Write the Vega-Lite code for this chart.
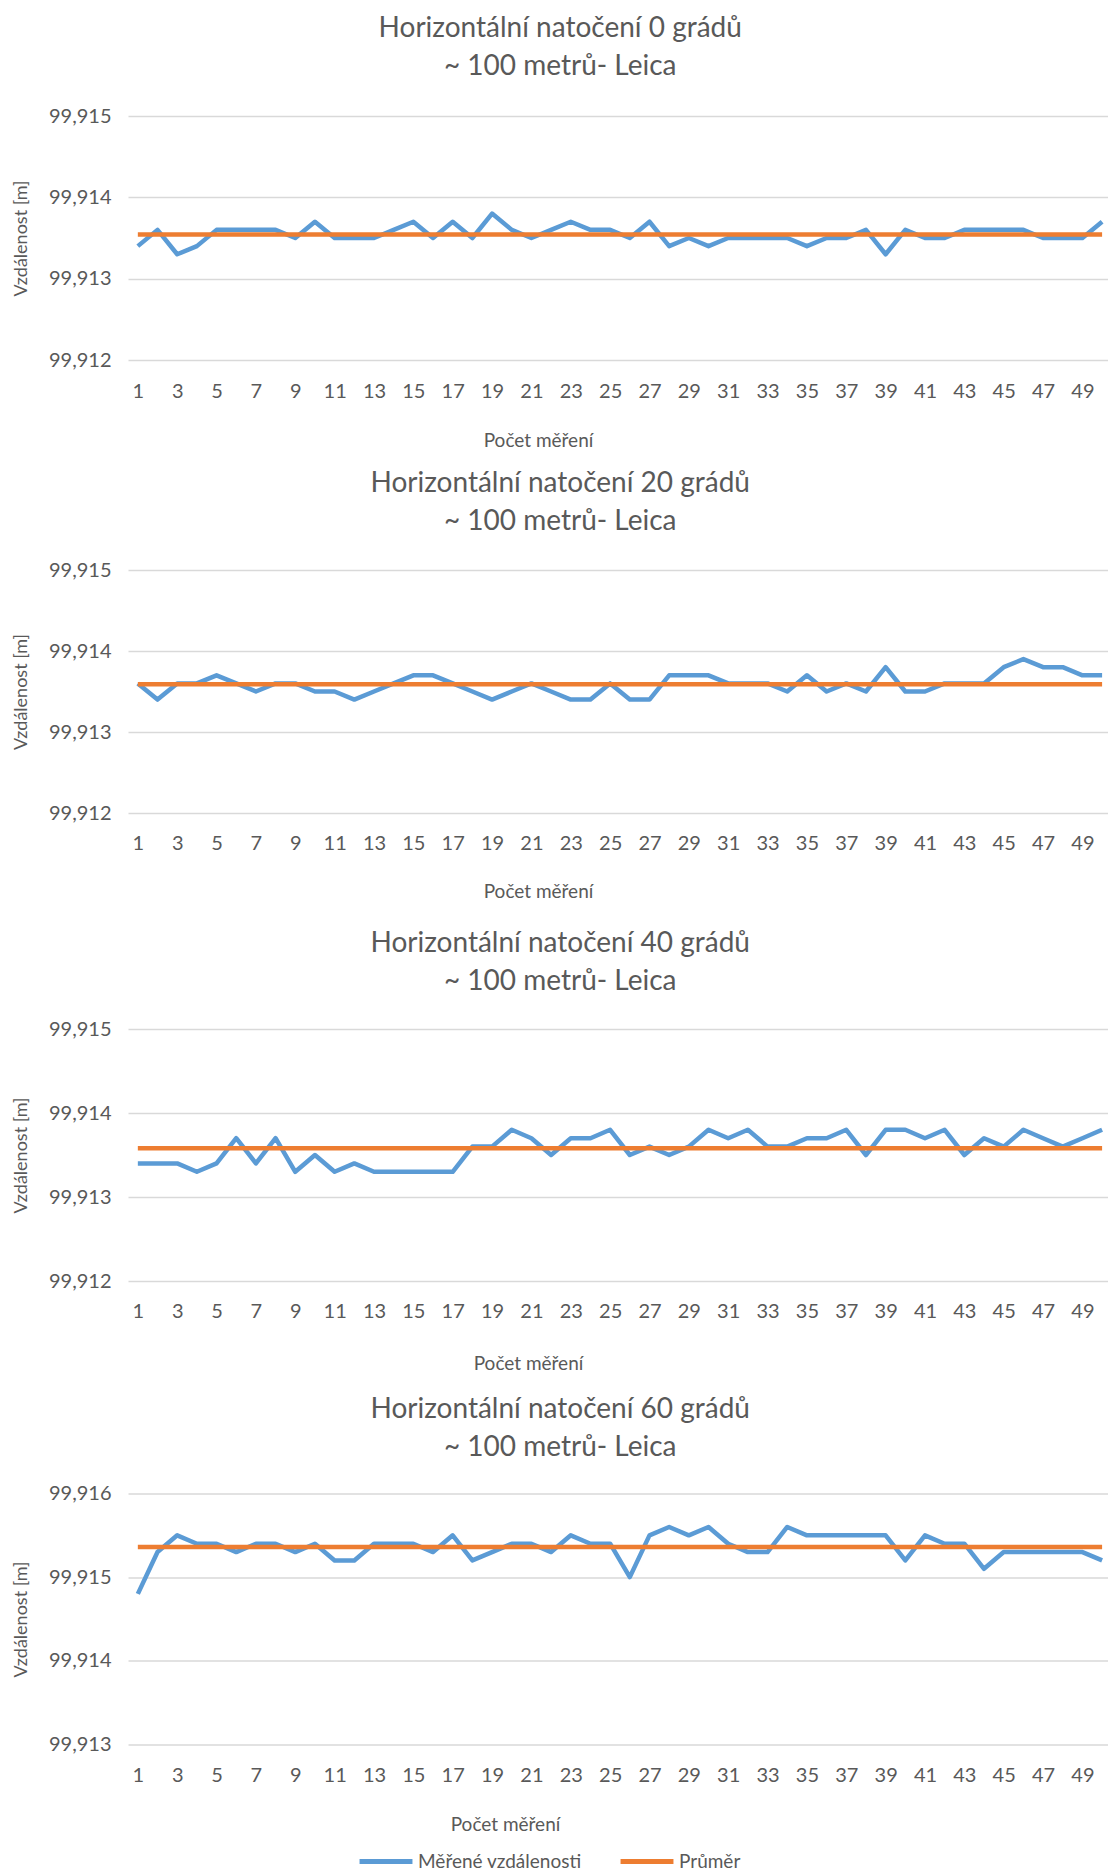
{
  "$schema": "https://vega.github.io/schema/vega-lite/v6.json",
  "background": "white",
  "padding": {"left": 12, "top": 15, "right": 0, "bottom": 0},
  "spacing": 28,
  "config": {
    "font": "Lato",
    "view": {"stroke": null},
    "axis": {"labelFont": "Lato", "titleFont": "Lato", "labelColor": "#595959", "titleColor": "#595959", "labelFontSize": 20, "titleFontSize": 19, "titleFontWeight": "normal", "ticks": false, "domain": false, "gridColor": "#d9d9d9", "gridWidth": 1.3},
    "title": {"font": "Lato", "fontSize": 28, "fontWeight": "normal", "color": "#595959", "lineHeight": 38, "anchor": "middle", "frame": "bounds", "offset": 26},
    "legend": {"labelFont": "Lato"}
  },
  "datasets": {
    "d": [
      {"p":1,"n":1,"m":99.9134,"a":99.913544},{"p":1,"n":2,"m":99.9136,"a":99.913544},{"p":1,"n":3,"m":99.9133,"a":99.913544},{"p":1,"n":4,"m":99.9134,"a":99.913544},{"p":1,"n":5,"m":99.9136,"a":99.913544},
      {"p":1,"n":6,"m":99.9136,"a":99.913544},{"p":1,"n":7,"m":99.9136,"a":99.913544},{"p":1,"n":8,"m":99.9136,"a":99.913544},{"p":1,"n":9,"m":99.9135,"a":99.913544},{"p":1,"n":10,"m":99.9137,"a":99.913544},
      {"p":1,"n":11,"m":99.9135,"a":99.913544},{"p":1,"n":12,"m":99.9135,"a":99.913544},{"p":1,"n":13,"m":99.9135,"a":99.913544},{"p":1,"n":14,"m":99.9136,"a":99.913544},{"p":1,"n":15,"m":99.9137,"a":99.913544},
      {"p":1,"n":16,"m":99.9135,"a":99.913544},{"p":1,"n":17,"m":99.9137,"a":99.913544},{"p":1,"n":18,"m":99.9135,"a":99.913544},{"p":1,"n":19,"m":99.9138,"a":99.913544},{"p":1,"n":20,"m":99.9136,"a":99.913544},
      {"p":1,"n":21,"m":99.9135,"a":99.913544},{"p":1,"n":22,"m":99.9136,"a":99.913544},{"p":1,"n":23,"m":99.9137,"a":99.913544},{"p":1,"n":24,"m":99.9136,"a":99.913544},{"p":1,"n":25,"m":99.9136,"a":99.913544},
      {"p":1,"n":26,"m":99.9135,"a":99.913544},{"p":1,"n":27,"m":99.9137,"a":99.913544},{"p":1,"n":28,"m":99.9134,"a":99.913544},{"p":1,"n":29,"m":99.9135,"a":99.913544},{"p":1,"n":30,"m":99.9134,"a":99.913544},
      {"p":1,"n":31,"m":99.9135,"a":99.913544},{"p":1,"n":32,"m":99.9135,"a":99.913544},{"p":1,"n":33,"m":99.9135,"a":99.913544},{"p":1,"n":34,"m":99.9135,"a":99.913544},{"p":1,"n":35,"m":99.9134,"a":99.913544},
      {"p":1,"n":36,"m":99.9135,"a":99.913544},{"p":1,"n":37,"m":99.9135,"a":99.913544},{"p":1,"n":38,"m":99.9136,"a":99.913544},{"p":1,"n":39,"m":99.9133,"a":99.913544},{"p":1,"n":40,"m":99.9136,"a":99.913544},
      {"p":1,"n":41,"m":99.9135,"a":99.913544},{"p":1,"n":42,"m":99.9135,"a":99.913544},{"p":1,"n":43,"m":99.9136,"a":99.913544},{"p":1,"n":44,"m":99.9136,"a":99.913544},{"p":1,"n":45,"m":99.9136,"a":99.913544},
      {"p":1,"n":46,"m":99.9136,"a":99.913544},{"p":1,"n":47,"m":99.9135,"a":99.913544},{"p":1,"n":48,"m":99.9135,"a":99.913544},{"p":1,"n":49,"m":99.9135,"a":99.913544},{"p":1,"n":50,"m":99.9137,"a":99.913544},

      {"p":2,"n":1,"m":99.9136,"a":99.913588},{"p":2,"n":2,"m":99.9134,"a":99.913588},{"p":2,"n":3,"m":99.9136,"a":99.913588},{"p":2,"n":4,"m":99.9136,"a":99.913588},{"p":2,"n":5,"m":99.9137,"a":99.913588},
      {"p":2,"n":6,"m":99.9136,"a":99.913588},{"p":2,"n":7,"m":99.9135,"a":99.913588},{"p":2,"n":8,"m":99.9136,"a":99.913588},{"p":2,"n":9,"m":99.9136,"a":99.913588},{"p":2,"n":10,"m":99.9135,"a":99.913588},
      {"p":2,"n":11,"m":99.9135,"a":99.913588},{"p":2,"n":12,"m":99.9134,"a":99.913588},{"p":2,"n":13,"m":99.9135,"a":99.913588},{"p":2,"n":14,"m":99.9136,"a":99.913588},{"p":2,"n":15,"m":99.9137,"a":99.913588},
      {"p":2,"n":16,"m":99.9137,"a":99.913588},{"p":2,"n":17,"m":99.9136,"a":99.913588},{"p":2,"n":18,"m":99.9135,"a":99.913588},{"p":2,"n":19,"m":99.9134,"a":99.913588},{"p":2,"n":20,"m":99.9135,"a":99.913588},
      {"p":2,"n":21,"m":99.9136,"a":99.913588},{"p":2,"n":22,"m":99.9135,"a":99.913588},{"p":2,"n":23,"m":99.9134,"a":99.913588},{"p":2,"n":24,"m":99.9134,"a":99.913588},{"p":2,"n":25,"m":99.9136,"a":99.913588},
      {"p":2,"n":26,"m":99.9134,"a":99.913588},{"p":2,"n":27,"m":99.9134,"a":99.913588},{"p":2,"n":28,"m":99.9137,"a":99.913588},{"p":2,"n":29,"m":99.9137,"a":99.913588},{"p":2,"n":30,"m":99.9137,"a":99.913588},
      {"p":2,"n":31,"m":99.9136,"a":99.913588},{"p":2,"n":32,"m":99.9136,"a":99.913588},{"p":2,"n":33,"m":99.9136,"a":99.913588},{"p":2,"n":34,"m":99.9135,"a":99.913588},{"p":2,"n":35,"m":99.9137,"a":99.913588},
      {"p":2,"n":36,"m":99.9135,"a":99.913588},{"p":2,"n":37,"m":99.9136,"a":99.913588},{"p":2,"n":38,"m":99.9135,"a":99.913588},{"p":2,"n":39,"m":99.9138,"a":99.913588},{"p":2,"n":40,"m":99.9135,"a":99.913588},
      {"p":2,"n":41,"m":99.9135,"a":99.913588},{"p":2,"n":42,"m":99.9136,"a":99.913588},{"p":2,"n":43,"m":99.9136,"a":99.913588},{"p":2,"n":44,"m":99.9136,"a":99.913588},{"p":2,"n":45,"m":99.9138,"a":99.913588},
      {"p":2,"n":46,"m":99.9139,"a":99.913588},{"p":2,"n":47,"m":99.9138,"a":99.913588},{"p":2,"n":48,"m":99.9138,"a":99.913588},{"p":2,"n":49,"m":99.9137,"a":99.913588},{"p":2,"n":50,"m":99.9137,"a":99.913588},

      {"p":3,"n":1,"m":99.9134,"a":99.91358},{"p":3,"n":2,"m":99.9134,"a":99.91358},{"p":3,"n":3,"m":99.9134,"a":99.91358},{"p":3,"n":4,"m":99.9133,"a":99.91358},{"p":3,"n":5,"m":99.9134,"a":99.91358},
      {"p":3,"n":6,"m":99.9137,"a":99.91358},{"p":3,"n":7,"m":99.9134,"a":99.91358},{"p":3,"n":8,"m":99.9137,"a":99.91358},{"p":3,"n":9,"m":99.9133,"a":99.91358},{"p":3,"n":10,"m":99.9135,"a":99.91358},
      {"p":3,"n":11,"m":99.9133,"a":99.91358},{"p":3,"n":12,"m":99.9134,"a":99.91358},{"p":3,"n":13,"m":99.9133,"a":99.91358},{"p":3,"n":14,"m":99.9133,"a":99.91358},{"p":3,"n":15,"m":99.9133,"a":99.91358},
      {"p":3,"n":16,"m":99.9133,"a":99.91358},{"p":3,"n":17,"m":99.9133,"a":99.91358},{"p":3,"n":18,"m":99.9136,"a":99.91358},{"p":3,"n":19,"m":99.9136,"a":99.91358},{"p":3,"n":20,"m":99.9138,"a":99.91358},
      {"p":3,"n":21,"m":99.9137,"a":99.91358},{"p":3,"n":22,"m":99.9135,"a":99.91358},{"p":3,"n":23,"m":99.9137,"a":99.91358},{"p":3,"n":24,"m":99.9137,"a":99.91358},{"p":3,"n":25,"m":99.9138,"a":99.91358},
      {"p":3,"n":26,"m":99.9135,"a":99.91358},{"p":3,"n":27,"m":99.9136,"a":99.91358},{"p":3,"n":28,"m":99.9135,"a":99.91358},{"p":3,"n":29,"m":99.9136,"a":99.91358},{"p":3,"n":30,"m":99.9138,"a":99.91358},
      {"p":3,"n":31,"m":99.9137,"a":99.91358},{"p":3,"n":32,"m":99.9138,"a":99.91358},{"p":3,"n":33,"m":99.9136,"a":99.91358},{"p":3,"n":34,"m":99.9136,"a":99.91358},{"p":3,"n":35,"m":99.9137,"a":99.91358},
      {"p":3,"n":36,"m":99.9137,"a":99.91358},{"p":3,"n":37,"m":99.9138,"a":99.91358},{"p":3,"n":38,"m":99.9135,"a":99.91358},{"p":3,"n":39,"m":99.9138,"a":99.91358},{"p":3,"n":40,"m":99.9138,"a":99.91358},
      {"p":3,"n":41,"m":99.9137,"a":99.91358},{"p":3,"n":42,"m":99.9138,"a":99.91358},{"p":3,"n":43,"m":99.9135,"a":99.91358},{"p":3,"n":44,"m":99.9137,"a":99.91358},{"p":3,"n":45,"m":99.9136,"a":99.91358},
      {"p":3,"n":46,"m":99.9138,"a":99.91358},{"p":3,"n":47,"m":99.9137,"a":99.91358},{"p":3,"n":48,"m":99.9136,"a":99.91358},{"p":3,"n":49,"m":99.9137,"a":99.91358},{"p":3,"n":50,"m":99.9138,"a":99.91358},

      {"p":4,"n":1,"m":99.9148,"a":99.915362},{"p":4,"n":2,"m":99.9153,"a":99.915362},{"p":4,"n":3,"m":99.9155,"a":99.915362},{"p":4,"n":4,"m":99.9154,"a":99.915362},{"p":4,"n":5,"m":99.9154,"a":99.915362},
      {"p":4,"n":6,"m":99.9153,"a":99.915362},{"p":4,"n":7,"m":99.9154,"a":99.915362},{"p":4,"n":8,"m":99.9154,"a":99.915362},{"p":4,"n":9,"m":99.9153,"a":99.915362},{"p":4,"n":10,"m":99.9154,"a":99.915362},
      {"p":4,"n":11,"m":99.9152,"a":99.915362},{"p":4,"n":12,"m":99.9152,"a":99.915362},{"p":4,"n":13,"m":99.9154,"a":99.915362},{"p":4,"n":14,"m":99.9154,"a":99.915362},{"p":4,"n":15,"m":99.9154,"a":99.915362},
      {"p":4,"n":16,"m":99.9153,"a":99.915362},{"p":4,"n":17,"m":99.9155,"a":99.915362},{"p":4,"n":18,"m":99.9152,"a":99.915362},{"p":4,"n":19,"m":99.9153,"a":99.915362},{"p":4,"n":20,"m":99.9154,"a":99.915362},
      {"p":4,"n":21,"m":99.9154,"a":99.915362},{"p":4,"n":22,"m":99.9153,"a":99.915362},{"p":4,"n":23,"m":99.9155,"a":99.915362},{"p":4,"n":24,"m":99.9154,"a":99.915362},{"p":4,"n":25,"m":99.9154,"a":99.915362},
      {"p":4,"n":26,"m":99.9150,"a":99.915362},{"p":4,"n":27,"m":99.9155,"a":99.915362},{"p":4,"n":28,"m":99.9156,"a":99.915362},{"p":4,"n":29,"m":99.9155,"a":99.915362},{"p":4,"n":30,"m":99.9156,"a":99.915362},
      {"p":4,"n":31,"m":99.9154,"a":99.915362},{"p":4,"n":32,"m":99.9153,"a":99.915362},{"p":4,"n":33,"m":99.9153,"a":99.915362},{"p":4,"n":34,"m":99.9156,"a":99.915362},{"p":4,"n":35,"m":99.9155,"a":99.915362},
      {"p":4,"n":36,"m":99.9155,"a":99.915362},{"p":4,"n":37,"m":99.9155,"a":99.915362},{"p":4,"n":38,"m":99.9155,"a":99.915362},{"p":4,"n":39,"m":99.9155,"a":99.915362},{"p":4,"n":40,"m":99.9152,"a":99.915362},
      {"p":4,"n":41,"m":99.9155,"a":99.915362},{"p":4,"n":42,"m":99.9154,"a":99.915362},{"p":4,"n":43,"m":99.9154,"a":99.915362},{"p":4,"n":44,"m":99.9151,"a":99.915362},{"p":4,"n":45,"m":99.9153,"a":99.915362},
      {"p":4,"n":46,"m":99.9153,"a":99.915362},{"p":4,"n":47,"m":99.9153,"a":99.915362},{"p":4,"n":48,"m":99.9153,"a":99.915362},{"p":4,"n":49,"m":99.9153,"a":99.915362},{"p":4,"n":50,"m":99.9152,"a":99.915362}
    ]
  },
  "resolve": {"scale": {"x": "independent", "y": "independent", "color": "independent"}, "legend": {"color": "independent"}},
  "vconcat": [
    {
      "spacing": 19,
      "resolve": {"scale": {"x": "independent", "y": "independent", "color": "independent"}, "legend": {"color": "independent"}},
      "vconcat": [
        {
          "width": 980, "height": 244,
          "title": {"text": ["Horizontální natočení 0 grádů", "~ 100 metrů- Leica"], "offset": 25},
          "data": {"name": "d"},
          "transform": [{"filter": "datum.p == 1"}, {"fold": ["m", "a"], "as": ["s", "v"]}],
          "mark": {"type": "line", "strokeWidth": 4.5, "strokeJoin": "round"},
          "encoding": {
            "x": {"field": "n", "type": "quantitative", "scale": {"domain": [0.5, 50.3], "nice": false, "zero": false},
                  "axis": {"values": [1,3,5,7,9,11,13,15,17,19,21,23,25,27,29,31,33,35,37,39,41,43,45,47,49], "grid": false, "title": "Počet měření", "labelPadding": 21, "titlePadding": 30, "labelFlush": false, "labelOverlap": false, "titleX": 410}},
            "y": {"field": "v", "type": "quantitative", "scale": {"domain": [99.912, 99.915], "zero": false, "nice": false},
                  "axis": {"values": [99.912, 99.913, 99.914, 99.915], "labelExpr": "replace(format(datum.value, '.3f'), '.', ',')", "title": "Vzdálenost [m]", "titleFontSize": 18, "labelPadding": 17, "titlePadding": 18}},
            "color": {"field": "s", "type": "nominal", "scale": {"domain": ["m", "a"], "range": ["#5b9bd5", "#ed7d31"]}, "legend": null}
          }
        },
        {
          "width": 980, "height": 243,
          "title": {"text": ["Horizontální natočení 20 grádů", "~ 100 metrů- Leica"], "offset": 24.5},
          "data": {"name": "d"},
          "transform": [{"filter": "datum.p == 2"}, {"fold": ["m", "a"], "as": ["s", "v"]}],
          "mark": {"type": "line", "strokeWidth": 4.5, "strokeJoin": "round"},
          "encoding": {
            "x": {"field": "n", "type": "quantitative", "scale": {"domain": [0.5, 50.3], "nice": false, "zero": false},
                  "axis": {"values": [1,3,5,7,9,11,13,15,17,19,21,23,25,27,29,31,33,35,37,39,41,43,45,47,49], "grid": false, "title": "Počet měření", "labelPadding": 20, "titlePadding": 29, "labelFlush": false, "labelOverlap": false, "titleX": 410}},
            "y": {"field": "v", "type": "quantitative", "scale": {"domain": [99.912, 99.915], "zero": false, "nice": false},
                  "axis": {"values": [99.912, 99.913, 99.914, 99.915], "labelExpr": "replace(format(datum.value, '.3f'), '.', ',')", "title": "Vzdálenost [m]", "titleFontSize": 18, "labelPadding": 17, "titlePadding": 18}},
            "color": {"field": "s", "type": "nominal", "scale": {"domain": ["m", "a"], "range": ["#5b9bd5", "#ed7d31"]}, "legend": null}
          }
        }
      ]
    },
    {
      "spacing": 22.5,
      "resolve": {"scale": {"x": "independent", "y": "independent", "color": "independent"}, "legend": {"color": "independent"}},
      "vconcat": [
        {
          "width": 980, "height": 252,
          "title": {"text": ["Horizontální natočení 40 grádů", "~ 100 metrů- Leica"], "offset": 23.2},
          "data": {"name": "d"},
          "transform": [{"filter": "datum.p == 3"}, {"fold": ["m", "a"], "as": ["s", "v"]}],
          "mark": {"type": "line", "strokeWidth": 4.5, "strokeJoin": "round"},
          "encoding": {
            "x": {"field": "n", "type": "quantitative", "scale": {"domain": [0.5, 50.3], "nice": false, "zero": false},
                  "axis": {"values": [1,3,5,7,9,11,13,15,17,19,21,23,25,27,29,31,33,35,37,39,41,43,45,47,49], "grid": false, "title": "Počet měření", "labelPadding": 20, "titlePadding": 33, "labelFlush": false, "labelOverlap": false, "titleX": 400}},
            "y": {"field": "v", "type": "quantitative", "scale": {"domain": [99.912, 99.915], "zero": false, "nice": false},
                  "axis": {"values": [99.912, 99.913, 99.914, 99.915], "labelExpr": "replace(format(datum.value, '.3f'), '.', ',')", "title": "Vzdálenost [m]", "titleFontSize": 18, "labelPadding": 17, "titlePadding": 18}},
            "color": {"field": "s", "type": "nominal", "scale": {"domain": ["m", "a"], "range": ["#5b9bd5", "#ed7d31"]}, "legend": null}
          }
        },
        {
          "width": 980, "height": 251,
          "title": {"text": ["Horizontální natočení 60 grádů", "~ 100 metrů- Leica"], "offset": 21.5},
          "data": {"name": "d"},
          "transform": [{"filter": "datum.p == 4"}, {"fold": ["m", "a"], "as": ["s", "v"]}],
          "mark": {"type": "line", "strokeWidth": 4.5, "strokeJoin": "round"},
          "encoding": {
            "x": {"field": "n", "type": "quantitative", "scale": {"domain": [0.5, 50.3], "nice": false, "zero": false},
                  "axis": {"values": [1,3,5,7,9,11,13,15,17,19,21,23,25,27,29,31,33,35,37,39,41,43,45,47,49], "grid": false, "title": "Počet měření", "labelPadding": 21, "titlePadding": 30, "labelFlush": false, "labelOverlap": false, "titleX": 377}},
            "y": {"field": "v", "type": "quantitative", "scale": {"domain": [99.913, 99.916], "zero": false, "nice": false},
                  "axis": {"values": [99.913, 99.914, 99.915, 99.916], "labelExpr": "replace(format(datum.value, '.3f'), '.', ',')", "title": "Vzdálenost [m]", "titleFontSize": 18, "labelPadding": 17, "titlePadding": 18}},
            "color": {"field": "s", "type": "nominal", "scale": {"domain": ["m", "a"], "range": ["#5b9bd5", "#ed7d31"]},
                      "legend": {"orient": "none", "legendX": 229, "legendY": 339, "direction": "horizontal", "title": null, "symbolType": "stroke", "symbolSize": 2800, "symbolStrokeWidth": 5, "labelFontSize": 19, "labelColor": "#595959", "columnPadding": 28, "labelOffset": 3, "labelLimit": 400,
                                 "labelExpr": "datum.value == 'm' ? 'Měřené vzdálenosti' : 'Průměr'"}}
          }
        }
      ]
    }
  ]
}
